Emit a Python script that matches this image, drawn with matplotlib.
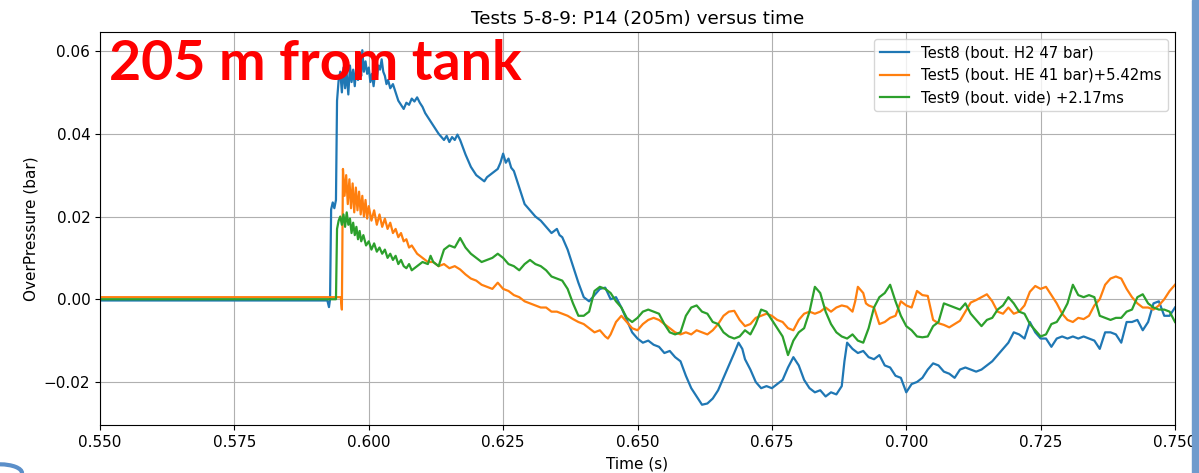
import matplotlib
matplotlib.use("Agg")
import matplotlib.pyplot as plt
from matplotlib.patches import Rectangle, Circle

# Test8 (H2 tank, 47 bar) - time in ms, overpressure in bar
t8 = [550.0, 592.3, 592.6, 592.8, 593.0, 593.3, 593.6, 593.9, 594.1, 594.4,
      594.7, 595.0, 595.3, 595.6, 595.9, 596.2, 596.5, 596.8, 597.1, 597.4,
      597.7, 598.0, 598.3, 598.6, 598.8, 599.1, 599.4, 599.7, 600.0, 600.3,
      600.6, 600.9, 601.2, 601.5, 601.8, 602.1, 602.4, 602.7, 603.0, 603.3,
      603.6, 604.0, 604.5, 605.0, 605.5, 606.0, 606.5, 607.0, 607.5, 608.0,
      608.5, 609.0, 609.5, 610.0, 610.5, 611.0, 612.0, 613.0, 614.0, 614.5,
      615.0, 615.5, 616.0, 616.5, 617.0, 618.0, 619.0, 620.0, 621.0, 621.5,
      622.0, 623.0, 624.0, 624.5, 625.0, 625.5, 626.0, 626.5, 627.0, 628.0,
      629.0, 630.0, 631.0, 632.0, 633.0, 634.0, 635.0, 635.5, 636.0, 637.0,
      638.0, 639.0, 640.0, 641.0, 642.0, 643.0, 644.0, 645.0, 646.0, 647.0,
      648.0, 649.0, 650.0, 651.0, 652.0, 653.0, 654.0, 655.0, 656.0, 657.0,
      658.0, 659.0, 660.0, 661.0, 662.0, 663.0, 664.0, 665.0, 666.0, 667.0,
      668.0, 668.8, 669.5, 670.0, 671.0, 672.0, 673.0, 674.0, 675.0, 676.0,
      677.0, 678.0, 679.0, 680.0, 681.0, 682.0, 683.0, 684.0, 685.0, 686.0,
      687.0, 688.0, 688.5, 689.0, 690.0, 691.0, 692.0, 693.0, 694.0, 695.0,
      696.0, 697.0, 698.0, 699.0, 700.0, 701.0, 702.0, 703.0, 704.0, 705.0,
      706.0, 707.0, 708.0, 709.0, 710.0, 711.0, 712.0, 713.0, 714.0, 715.0,
      716.0, 717.0, 718.0, 719.0, 720.0, 721.0, 722.0, 723.0, 724.0, 725.0,
      726.0, 727.0, 728.0, 729.0, 730.0, 731.0, 732.0, 733.0, 734.0, 735.0,
      736.0, 737.0, 738.0, 739.0, 740.0, 741.0, 742.0, 743.0, 744.0, 745.0,
      746.0, 747.0, 748.0, 749.0, 750.0]
p8 = [-0.0003, -0.0003, -0.0019, 0.0000, 0.0217, 0.0234, 0.0220, 0.0240, 0.0480, 0.0530,
      0.0550, 0.0500, 0.0560, 0.0510, 0.0545, 0.0495, 0.0565, 0.0525, 0.0555, 0.0515,
      0.0566, 0.0530, 0.0560, 0.0540, 0.0602, 0.0550, 0.0575, 0.0545, 0.0560, 0.0525,
      0.0545, 0.0515, 0.0550, 0.0535, 0.0565, 0.0555, 0.0580, 0.0550, 0.0540, 0.0520,
      0.0530, 0.0510, 0.0520, 0.0500, 0.0480, 0.0470, 0.0460, 0.0475, 0.0470, 0.0485,
      0.0478, 0.0488, 0.0475, 0.0465, 0.0450, 0.0440, 0.0420, 0.0400, 0.0385, 0.0395,
      0.0380, 0.0392, 0.0385, 0.0398, 0.0385, 0.0350, 0.0320, 0.0300, 0.0290, 0.0285,
      0.0295, 0.0305, 0.0315, 0.0330, 0.0352, 0.0330, 0.0340, 0.0318, 0.0310, 0.0270,
      0.0230, 0.0215, 0.0200, 0.0190, 0.0175, 0.0160, 0.0170, 0.0155, 0.0150, 0.0120,
      0.0080, 0.0040, 0.0005, -0.0005, 0.0010, 0.0025, 0.0028, 0.0000, 0.0005, -0.0020,
      -0.0050, -0.0080, -0.0095, -0.0105, -0.0100, -0.0110, -0.0115, -0.0130, -0.0125, -0.0140,
      -0.0150, -0.0185, -0.0215, -0.0235, -0.0255, -0.0252, -0.0240, -0.0220, -0.0190, -0.0160,
      -0.0130, -0.0105, -0.0120, -0.0145, -0.0170, -0.0200, -0.0215, -0.0210, -0.0215, -0.0205,
      -0.0195, -0.0165, -0.0140, -0.0160, -0.0195, -0.0215, -0.0225, -0.0220, -0.0235, -0.0225,
      -0.0230, -0.0210, -0.0150, -0.0105, -0.0120, -0.0130, -0.0125, -0.0140, -0.0145, -0.0135,
      -0.0160, -0.0165, -0.0185, -0.0190, -0.0225, -0.0205, -0.0200, -0.0190, -0.0170, -0.0155,
      -0.0160, -0.0175, -0.0180, -0.0190, -0.0170, -0.0165, -0.0170, -0.0175, -0.0170, -0.0160,
      -0.0150, -0.0135, -0.0120, -0.0105, -0.0080, -0.0085, -0.0095, -0.0055, -0.0080, -0.0095,
      -0.0095, -0.0115, -0.0095, -0.0090, -0.0095, -0.0090, -0.0095, -0.0090, -0.0095, -0.0100,
      -0.0120, -0.0080, -0.0080, -0.0085, -0.0105, -0.0055, -0.0055, -0.0050, -0.0075, -0.0055,
      -0.0010, -0.0005, -0.0040, -0.0040, -0.0020]

# Test5 (He tank, 41 bar), shifted by +5.42 ms
t5 = [550.0, 594.8, 595.0, 595.2, 595.5, 595.8, 596.1, 596.4, 596.7, 597.0,
      597.3, 597.6, 597.9, 598.2, 598.5, 598.8, 599.1, 599.4, 599.7, 600.0,
      600.5, 601.0, 601.5, 602.0, 602.5, 603.0, 603.5, 604.0, 604.5, 605.0,
      605.5, 606.0, 606.5, 607.0, 607.5, 608.0, 609.0, 610.0, 611.0, 612.0,
      613.0, 614.0, 615.0, 616.0, 617.0, 618.0, 619.0, 620.0, 621.0, 622.0,
      623.0, 624.0, 625.0, 626.0, 627.0, 628.0, 629.0, 630.0, 631.0, 632.0,
      633.0, 634.0, 635.0, 636.0, 637.0, 638.0, 639.0, 640.0, 641.0, 642.0,
      643.0, 644.0, 644.5, 645.0, 646.0, 647.0, 648.0, 649.0, 650.0, 651.0,
      652.0, 653.0, 654.0, 655.0, 656.0, 657.0, 658.0, 659.0, 660.0, 661.0,
      662.0, 663.0, 664.0, 665.0, 666.0, 667.0, 668.0, 669.0, 670.0, 671.0,
      672.0, 673.0, 674.0, 675.0, 676.0, 677.0, 678.0, 679.0, 680.0, 681.0,
      682.0, 683.0, 684.0, 685.0, 686.0, 687.0, 688.0, 689.0, 690.0, 690.5,
      691.0, 692.0, 692.5, 693.0, 694.0, 695.0, 696.0, 697.0, 698.0, 699.0,
      700.0, 701.0, 702.0, 703.0, 704.0, 705.0, 706.0, 707.0, 708.0, 709.0,
      710.0, 711.0, 712.0, 713.0, 714.0, 715.0, 716.0, 717.0, 718.0, 719.0,
      720.0, 721.0, 722.0, 723.0, 724.0, 725.0, 726.0, 727.0, 728.0, 729.0,
      730.0, 731.0, 732.0, 733.0, 734.0, 735.0, 736.0, 737.0, 738.0, 739.0,
      740.0, 741.0, 742.0, 743.0, 744.0, 745.0, 746.0, 747.0, 748.0, 749.0,
      750.0]
p5 = [0.0005, 0.0005, -0.0025, 0.0315, 0.0250, 0.0300, 0.0230, 0.0290, 0.0220, 0.0280,
      0.0210, 0.0270, 0.0215, 0.0260, 0.0205, 0.0250, 0.0200, 0.0240, 0.0195, 0.0225,
      0.0190, 0.0215, 0.0180, 0.0205, 0.0175, 0.0195, 0.0170, 0.0185, 0.0160, 0.0170,
      0.0150, 0.0160, 0.0140, 0.0145, 0.0125, 0.0130, 0.0110, 0.0100, 0.0090, 0.0090,
      0.0080, 0.0085, 0.0075, 0.0080, 0.0072, 0.0060, 0.0050, 0.0045, 0.0035, 0.0030,
      0.0025, 0.0040, 0.0025, 0.0020, 0.0010, 0.0005, -0.0005, -0.0010, -0.0015, -0.0020,
      -0.0020, -0.0030, -0.0030, -0.0035, -0.0040, -0.0048, -0.0055, -0.0060, -0.0070, -0.0080,
      -0.0075, -0.0090, -0.0095, -0.0085, -0.0055, -0.0040, -0.0055, -0.0070, -0.0075, -0.0060,
      -0.0050, -0.0045, -0.0050, -0.0060, -0.0070, -0.0080, -0.0085, -0.0080, -0.0085, -0.0075,
      -0.0080, -0.0085, -0.0075, -0.0060, -0.0040, -0.0030, -0.0028, -0.0050, -0.0065, -0.0060,
      -0.0045, -0.0040, -0.0035, -0.0040, -0.0050, -0.0055, -0.0070, -0.0075, -0.0050, -0.0035,
      -0.0030, -0.0035, -0.0030, -0.0020, -0.0030, -0.0020, -0.0015, -0.0018, -0.0030, -0.0005,
      0.0030, 0.0015, -0.0010, -0.0015, -0.0020, -0.0060, -0.0055, -0.0045, -0.0040, -0.0005,
      -0.0015, -0.0020, 0.0020, 0.0010, 0.0008, -0.0050, -0.0058, -0.0062, -0.0068, -0.0060,
      -0.0052, -0.0030, -0.0008, -0.0002, 0.0005, 0.0012, -0.0005, -0.0030, -0.0035, -0.0020,
      -0.0035, -0.0030, -0.0015, 0.0018, 0.0032, 0.0025, 0.0030, 0.0010, -0.0010, -0.0035,
      -0.0050, -0.0055, -0.0045, -0.0048, -0.0040, -0.0015, 0.0000, 0.0035, 0.0050, 0.0055,
      0.0050, 0.0025, 0.0005, -0.0010, -0.0020, -0.0020, -0.0025, -0.0015, 0.0000, 0.0020,
      0.0035]

# Test9 (empty tank), shifted by +2.17 ms
t9 = [550.0, 593.9, 594.1, 594.4, 594.7, 595.0, 595.3, 595.6, 595.9, 596.2,
      596.5, 596.8, 597.1, 597.4, 597.7, 598.0, 598.3, 598.6, 599.0, 599.5,
      600.0, 600.5, 601.0, 601.5, 602.0, 602.5, 603.0, 603.5, 604.0, 604.5,
      605.0, 605.5, 606.0, 606.5, 607.0, 607.5, 608.0, 609.0, 610.0, 611.0,
      611.5, 612.0, 613.0, 614.0, 615.0, 616.0, 617.0, 618.0, 619.0, 620.0,
      621.0, 622.0, 623.0, 624.0, 625.0, 626.0, 627.0, 628.0, 629.0, 630.0,
      631.0, 632.0, 633.0, 634.0, 635.0, 636.0, 637.0, 638.0, 639.0, 640.0,
      641.0, 642.0, 643.0, 644.0, 645.0, 646.0, 647.0, 648.0, 649.0, 650.0,
      651.0, 652.0, 653.0, 654.0, 655.0, 656.0, 657.0, 658.0, 659.0, 660.0,
      661.0, 662.0, 663.0, 664.0, 665.0, 666.0, 667.0, 668.0, 669.0, 670.0,
      671.0, 672.0, 673.0, 674.0, 675.0, 676.0, 677.0, 678.0, 679.0, 680.0,
      681.0, 682.0, 683.0, 684.0, 685.0, 686.0, 687.0, 688.0, 689.0, 690.0,
      691.0, 692.0, 693.0, 694.0, 695.0, 696.0, 697.0, 698.0, 699.0, 700.0,
      701.0, 702.0, 703.0, 704.0, 705.0, 706.0, 707.0, 708.0, 709.0, 710.0,
      711.0, 712.0, 713.0, 714.0, 715.0, 716.0, 717.0, 718.0, 719.0, 720.0,
      721.0, 722.0, 723.0, 724.0, 725.0, 726.0, 727.0, 728.0, 729.0, 730.0,
      731.0, 732.0, 733.0, 734.0, 735.0, 736.0, 737.0, 738.0, 739.0, 740.0,
      741.0, 742.0, 743.0, 744.0, 745.0, 746.0, 747.0, 748.0, 749.0, 750.0]
p9 = [0.0000, 0.0000, 0.0170, 0.0190, 0.0200, 0.0180, 0.0205, 0.0175, 0.0210, 0.0180,
      0.0195, 0.0160, 0.0185, 0.0155, 0.0175, 0.0145, 0.0165, 0.0140, 0.0155, 0.0130,
      0.0140, 0.0120, 0.0135, 0.0115, 0.0125, 0.0110, 0.0120, 0.0100, 0.0110, 0.0095,
      0.0105, 0.0085, 0.0095, 0.0080, 0.0075, 0.0085, 0.0070, 0.0080, 0.0090, 0.0085,
      0.0105, 0.0090, 0.0080, 0.0120, 0.0130, 0.0125, 0.0148, 0.0125, 0.0110, 0.0100,
      0.0090, 0.0095, 0.0100, 0.0110, 0.0100, 0.0085, 0.0080, 0.0070, 0.0085, 0.0095,
      0.0085, 0.0080, 0.0070, 0.0055, 0.0050, 0.0045, 0.0025, -0.0010, -0.0040, -0.0040,
      -0.0030, 0.0020, 0.0030, 0.0025, 0.0015, -0.0005, -0.0020, -0.0045, -0.0055, -0.0045,
      -0.0030, -0.0025, -0.0030, -0.0035, -0.0060, -0.0080, -0.0085, -0.0080, -0.0040, -0.0020,
      -0.0015, -0.0030, -0.0035, -0.0055, -0.0060, -0.0080, -0.0090, -0.0095, -0.0090, -0.0075,
      -0.0085, -0.0060, -0.0025, -0.0030, -0.0050, -0.0070, -0.0090, -0.0135, -0.0100, -0.0080,
      -0.0070, -0.0030, 0.0030, 0.0015, -0.0030, -0.0060, -0.0080, -0.0090, -0.0095, -0.0085,
      -0.0100, -0.0105, -0.0070, -0.0020, 0.0005, 0.0015, 0.0035, -0.0005, -0.0040, -0.0065,
      -0.0075, -0.0090, -0.0092, -0.0090, -0.0065, -0.0055, -0.0010, -0.0015, -0.0020, -0.0025,
      -0.0010, -0.0035, -0.0050, -0.0065, -0.0050, -0.0045, -0.0025, -0.0015, 0.0005, -0.0010,
      -0.0030, -0.0035, -0.0060, -0.0075, -0.0090, -0.0085, -0.0060, -0.0055, -0.0035, -0.0010,
      0.0035, 0.0010, 0.0005, 0.0010, 0.0005, -0.0040, -0.0045, -0.0050, -0.0045, -0.0045,
      -0.0030, -0.0025, 0.0005, 0.0012, -0.0010, -0.0020, -0.0025, -0.0025, -0.0030, -0.0055]

labels = ["Test8 (bout. H2 47 bar)",
          "Test5 (bout. HE 41 bar)+5.42ms",
          "Test9 (bout. vide) +2.17ms"]
x_ticks = [0.550, 0.575, 0.600, 0.625, 0.650, 0.675, 0.700, 0.725, 0.750]
y_ticks = [-0.02, 0.00, 0.02, 0.04, 0.06]

plt.rcParams["font.size"] = 11

fig = plt.figure(figsize=(11.99, 4.73), dpi=100)
ax = fig.add_axes([100 / 1199, 48 / 473, 1075 / 1199, 393 / 473])

for t, p, lab in zip((t8, t5, t9), (p8, p5, p9), labels):
    ax.plot([v / 1000.0 for v in t], p, lw=1.6, label=lab)

ax.set_xlim(0.55, 0.75)
ax.set_ylim(-0.0304, 0.0646)
ax.set_xticks(x_ticks)
ax.set_yticks(y_ticks)
ax.tick_params(labelsize=11)
ax.grid(True)
ax.set_title("Tests 5-8-9: P14 (205m) versus time", fontsize=13.2, pad=6)
ax.set_xlabel("Time (s)", fontsize=11, labelpad=5)
ax.set_ylabel("OverPressure (bar)", fontsize=11)
ax.legend(loc="upper right", fontsize=10.7)

# slide annotation on top of the curves
fig.text(109 / 1199, (473 - 80) / 473, "205 m from tank", color="#ff0000",
         fontsize=40, fontweight="bold", family="Lato", va="baseline",
         ha="left", zorder=10)

# slide frame decorations
fig.patches.append(Rectangle((1192 / 1199, 0), 7 / 1199, 1,
                             transform=fig.transFigure, color="#6f9bcd",
                             zorder=20))
fig.patches.append(Circle((0.0, 0.0), 22 / 1199, transform=fig.transFigure,
                          fill=False, ec="#5b8fc9", lw=3, zorder=20))

fig.savefig("out.png", dpi=100)
